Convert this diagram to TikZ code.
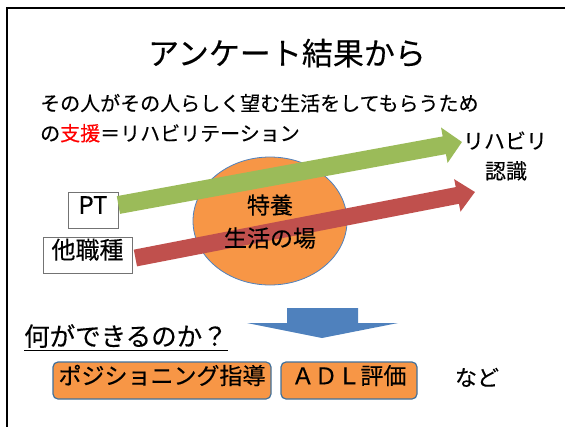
\documentclass[tikz,border=0pt]{standalone}
\usepackage{fontspec}
\setmainfont{Noto Sans CJK JP}[FakeBold=0.3]
\usetikzlibrary{arrows.meta,shapes.geometric}
\definecolor{arrowgreen}{RGB}{155,187,89}
\definecolor{arrowred}{RGB}{192,80,77}
\definecolor{fillorange}{RGB}{247,150,70}
\definecolor{lineblue}{RGB}{79,129,189}
\definecolor{boxblue}{RGB}{65,113,156}
\tikzset{
  % font size in pt (1pt = 1px here)
  fsize/.style={font=\fontsize{#1}{#1}\selectfont},
  % plain text, centred on the glyphs
  txt/.style={inner sep=0pt, text height=0.83em, text depth=0.07em},
  % small framed labels on the left
  name box/.style={txt, draw=black!55, line width=0.8pt, minimum height=36pt},
  % orange boxes at the bottom
  task box/.style={txt, fsize=23, draw=boxblue, fill=fillorange, line width=1.2pt,
    rounded corners=5pt, minimum height=37pt},
  % thick arrows
  green arrow/.style={draw=arrowgreen, line width=18pt, -{Triangle[length=18pt,width=35pt]}},
  red arrow/.style={draw=arrowred, line width=17pt, -{Triangle[length=18pt,width=32pt]}}
}

\begin{document}
\begin{tikzpicture}[x=1pt, y=-1pt]
  \useasboundingbox (0,0) rectangle (565,426);
  % frame
  \draw[line width=2pt] (7,430) -- (7,8) -- (570,8);

  % title and text
  \node[txt, fsize=31] (title) at (287,61) {アンケート結果から};
  \node[txt, fsize=20, anchor=west] (line1) at (40,107) {その人がその人らしく望む生活をしてもらうため};
  \node[txt, fsize=20, anchor=west] (line2) at (40,137) {の\textcolor{red}{支援}＝リハビリテーション};

  % circle
  \node[ellipse, draw=lineblue, fill=fillorange, line width=0.8pt,
        minimum width=154pt, minimum height=128pt] (home) at (270,221) {};

  % left labels
  \node[name box, fsize=24, minimum width=50pt] (PT) at (93,210) {PT};
  \node[name box, fsize=24, minimum width=89pt] (staff) at (87.5,255) {他職種};

  % right labels
  \node[txt, fsize=21] (rehab) at (505,145) {リハビリ};
  \node[txt, fsize=21] (aware) at (506,175) {認識};

  % arrows
  \coordinate (gtip) at (462,142);
  \coordinate (rtip) at (475,192);
  \draw[green arrow] ([yshift=5pt]PT.east) -- (gtip);
  \draw[red arrow] ([xshift=3pt,yshift=-3pt]staff.east) -- (rtip);

  % text over the circle
  \node[txt, fsize=23] (home1) at (270,210) {特養};
  \node[txt, fsize=23] (home2) at (270,243) {生活の場};

  % down arrow
  \fill[lineblue] (287,308) -- (358,308) -- (358,323) -- (398,323) -- (322,338)
    -- (247,323) -- (287,323) -- cycle;

  % question
  \node[txt, fsize=25.5, anchor=west] (question) at (24,342) {何ができるのか？};
  \draw[line width=1pt] ([yshift=-4pt]question.south west) -- ([yshift=-4pt]question.south east);

  % bottom boxes
  \node[task box, minimum width=218pt] (posture) at (162,380.5) {ポジショニング指導};
  \node[task box, minimum width=136pt] (adl) at (349,380.5) {ＡＤＬ評価};
  \node[txt, fsize=22] (etc) at (477,382) {など};
\end{tikzpicture}
\end{document}
